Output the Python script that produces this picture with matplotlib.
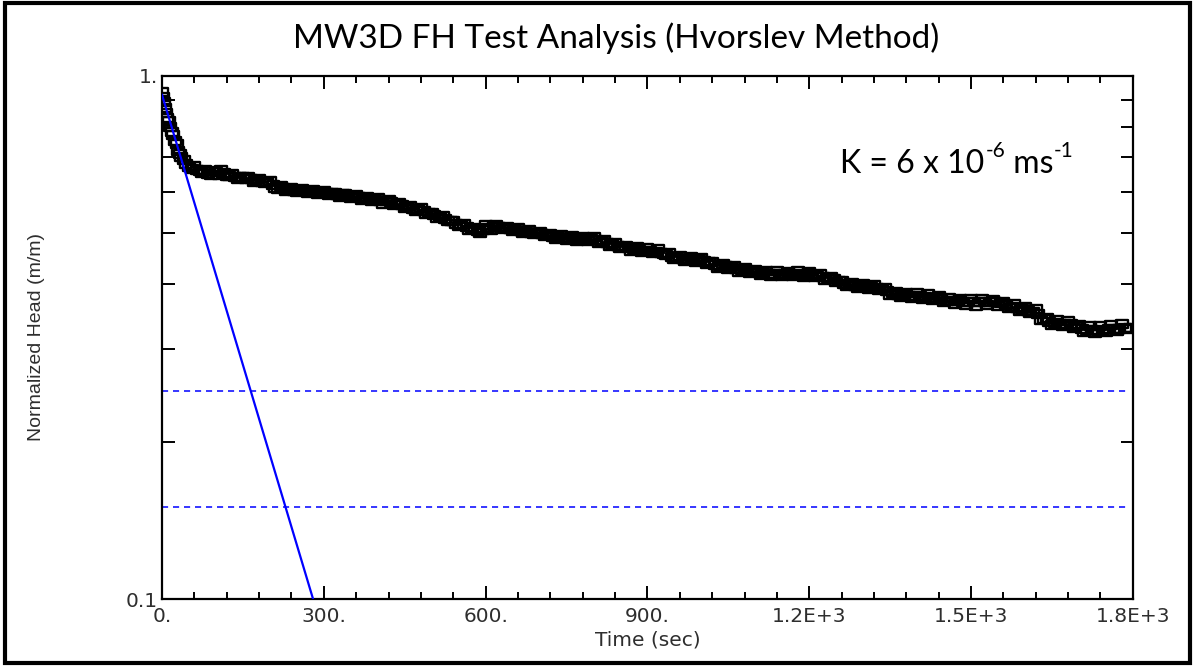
"""
Slug test (falling head) plot for MW3D, Hvorslev method.
"""
import matplotlib
matplotlib.use("Agg")
import matplotlib.pyplot as plt
from matplotlib.path import Path
from matplotlib.patches import Rectangle
from matplotlib.ticker import FixedLocator, FixedFormatter, NullFormatter

# observed normalized head (m/m) against time (sec)
early_time = [0, 2, 4, 6, 8, 10, 12, 15, 18, 21, 24, 27, 30, 33, 36, 40, 45, 50, 55]
early_head = [0.93, 0.91, 0.89, 0.87, 0.85, 0.83, 0.82, 0.80, 0.78, 0.77,
              0.75, 0.74, 0.72, 0.71, 0.70, 0.69, 0.68, 0.67, 0.665]

late_time = list(range(60, 1800, 10))
late_head = [
    0.672, 0.658, 0.660, 0.648, 0.655, 0.662, 0.645, 0.650, 0.634, 0.642,
    0.640, 0.628, 0.636, 0.624, 0.630, 0.612, 0.616, 0.604, 0.612, 0.600,
    0.608, 0.598, 0.606, 0.596, 0.604, 0.592, 0.598, 0.588, 0.596, 0.584,
    0.592, 0.580, 0.588, 0.576, 0.584, 0.570, 0.580, 0.566, 0.572, 0.560,
    0.565, 0.552, 0.560, 0.545, 0.548, 0.536, 0.540, 0.528, 0.528, 0.516,
    0.522, 0.508, 0.512, 0.500, 0.518, 0.508, 0.520, 0.510, 0.514, 0.505,
    0.512, 0.500, 0.508, 0.498, 0.504, 0.494, 0.498, 0.488, 0.496, 0.486,
    0.494, 0.484, 0.492, 0.484, 0.492, 0.480, 0.486, 0.474, 0.480, 0.468,
    0.474, 0.462, 0.470, 0.460, 0.468, 0.458, 0.466, 0.456, 0.458, 0.446,
    0.452, 0.442, 0.450, 0.440, 0.448, 0.438, 0.440, 0.430, 0.438, 0.428,
    0.434, 0.422, 0.430, 0.420, 0.426, 0.416, 0.424, 0.414, 0.424, 0.414,
    0.422, 0.414, 0.423, 0.413, 0.422, 0.412, 0.418, 0.408, 0.413, 0.404,
    0.406, 0.396, 0.402, 0.394, 0.401, 0.392, 0.399, 0.390, 0.394, 0.382,
    0.387, 0.378, 0.385, 0.376, 0.384, 0.374, 0.383, 0.373, 0.379, 0.369,
    0.376, 0.366, 0.375, 0.365, 0.374, 0.364, 0.375, 0.365, 0.373, 0.364,
    0.370, 0.360, 0.366, 0.356, 0.362, 0.352, 0.358, 0.342, 0.344, 0.334,
    0.342, 0.332, 0.340, 0.330, 0.334, 0.324, 0.332, 0.322, 0.332, 0.324,
    0.334, 0.326, 0.336, 0.328,
]

# readings taken half-way between the ones above
mid_time = list(range(65, 1800, 10))
mid_head = [
    0.662, 0.652, 0.650, 0.657, 0.648, 0.652, 0.644, 0.640, 0.640, 0.636,
    0.634, 0.632, 0.628, 0.627, 0.620, 0.608, 0.610, 0.607, 0.604, 0.606,
    0.602, 0.603, 0.600, 0.600, 0.597, 0.598, 0.593, 0.594, 0.590, 0.589,
    0.586, 0.585, 0.582, 0.580, 0.577, 0.576, 0.573, 0.569, 0.566, 0.562,
    0.558, 0.556, 0.551, 0.546, 0.542, 0.537, 0.533, 0.527, 0.522, 0.520,
    0.515, 0.510, 0.506, 0.508, 0.513, 0.516, 0.514, 0.512, 0.509, 0.507,
    0.505, 0.504, 0.502, 0.500, 0.498, 0.496, 0.493, 0.492, 0.490, 0.490,
    0.489, 0.488, 0.488, 0.487, 0.485, 0.482, 0.480, 0.477, 0.474, 0.471,
    0.468, 0.466, 0.465, 0.463, 0.463, 0.461, 0.459, 0.454, 0.451, 0.448,
    0.447, 0.446, 0.444, 0.444, 0.443, 0.441, 0.436, 0.434, 0.433, 0.431,
    0.428, 0.426, 0.424, 0.422, 0.421, 0.420, 0.419, 0.419, 0.418, 0.418,
    0.418, 0.418, 0.417, 0.418, 0.417, 0.415, 0.413, 0.411, 0.409, 0.405,
    0.400, 0.398, 0.397, 0.397, 0.396, 0.395, 0.394, 0.392, 0.388, 0.385,
    0.382, 0.381, 0.380, 0.379, 0.379, 0.378, 0.377, 0.376, 0.374, 0.372,
    0.371, 0.371, 0.370, 0.370, 0.369, 0.369, 0.370, 0.370, 0.369, 0.368,
    0.365, 0.362, 0.360, 0.358, 0.356, 0.354, 0.350, 0.343, 0.339, 0.337,
    0.336, 0.336, 0.335, 0.333, 0.329, 0.327, 0.327, 0.326, 0.327, 0.328,
    0.329, 0.329, 0.330, 0.330,
]

# Hvorslev straight-line match and the two dashed reference heads
fit_time = [0, 280]
fit_head = [0.92, 0.1]
ref_heads = [0.25, 0.15]

x_ticks = [0, 300, 600, 900, 1200, 1500, 1800]
x_labels = ["0.", "300.", "600.", "900.", "1.2E+3", "1.5E+3", "1.8E+3"]
y_ticks = [0.1, 1.0]
y_labels = ["0.1", "1."]
y_minor = [0.2, 0.3, 0.4, 0.5, 0.6, 0.7, 0.8, 0.9]

label_color = "#2e2e2e"

fig = plt.figure(figsize=(11.95, 6.66), dpi=100)
ax = fig.add_axes([0.1356, 0.1006, 0.8124, 0.7853])

box = Path([(-1, -0.65), (1, -0.65), (1, 0.65), (-1, 0.65), (-1, -0.65)],
           [Path.MOVETO, Path.LINETO, Path.LINETO, Path.LINETO, Path.CLOSEPOLY])
marker_style = dict(linestyle="none", marker=box, markersize=8.8,
                    markerfacecolor="none", markeredgecolor="black",
                    markeredgewidth=1.7, zorder=3)
ax.plot(early_time + late_time, early_head + late_head, **marker_style)
ax.plot(mid_time, mid_head, **marker_style)
ax.plot(fit_time, fit_head, color="#0000ff", linewidth=1.6, zorder=4)
for h in ref_heads:
    ax.axhline(h, xmax=0.994, color="#0000ff", linewidth=1.1, dashes=(4, 3.2))

ax.set_yscale("log")
ax.set_xlim(0, 1800)
ax.set_ylim(0.1, 1.0)

ax.xaxis.set_major_locator(FixedLocator(x_ticks))
ax.xaxis.set_major_formatter(FixedFormatter(x_labels))
ax.xaxis.set_minor_locator(FixedLocator(list(range(0, 1801, 60))))
ax.yaxis.set_major_locator(FixedLocator(y_ticks))
ax.yaxis.set_major_formatter(FixedFormatter(y_labels))
ax.yaxis.set_minor_locator(FixedLocator(y_minor))
ax.yaxis.set_minor_formatter(NullFormatter())

ax.tick_params(which="both", direction="in", top=True, right=True, width=1.4)
ax.tick_params(axis="x", which="major", length=9.5, pad=6)
ax.tick_params(axis="x", which="minor", length=5)
ax.tick_params(axis="y", which="both", length=9, pad=3)
for lbl in ax.get_xticklabels() + ax.get_yticklabels():
    lbl.set_fontfamily("DejaVu Sans")
    lbl.set_fontsize(14.5)
    lbl.set_color(label_color)
for sp in ax.spines.values():
    sp.set_linewidth(1.6)

ax.set_xlabel("Time (sec)", fontfamily="DejaVu Sans", fontsize=14.5,
              color=label_color, labelpad=3)
ax.set_ylabel("Normalized Head (m/m)", fontfamily="Liberation Sans",
              fontsize=14, color=label_color)
ax.yaxis.set_label_coords(-0.121, 0.5)

# K = 6 x 10^-6 ms^-1 with plain hyphen superscripts
k_font = dict(fontfamily="Lato", fontsize=23)
sup_font = dict(fontfamily="Lato", fontsize=15)
t1 = ax.text(0.698, 0.815, "K = 6 x 10", transform=ax.transAxes,
             va="baseline", ha="left", **k_font)
t2 = ax.annotate("-6", xy=(1, 0.6), xycoords=t1, va="bottom", ha="left",
                 xytext=(1, 0), textcoords="offset points", **sup_font)
t3 = ax.annotate(" ms", xy=(1, 0), xycoords=(t2, t1), va="bottom", ha="left",
                 **k_font)
t4 = ax.annotate("-1", xy=(1, 0.6), xycoords=t3, va="bottom", ha="left",
                 **sup_font)

fig.text(0.516, 0.942, "MW3D FH Test Analysis (Hvorslev Method)",
         fontfamily="Lato", fontsize=24, ha="center", va="center")

fig.patches.append(Rectangle((0.004, 0.005), 0.992, 0.99, transform=fig.transFigure,
                             fill=False, edgecolor="black", linewidth=3))

fig.savefig("out.png", dpi=100)
